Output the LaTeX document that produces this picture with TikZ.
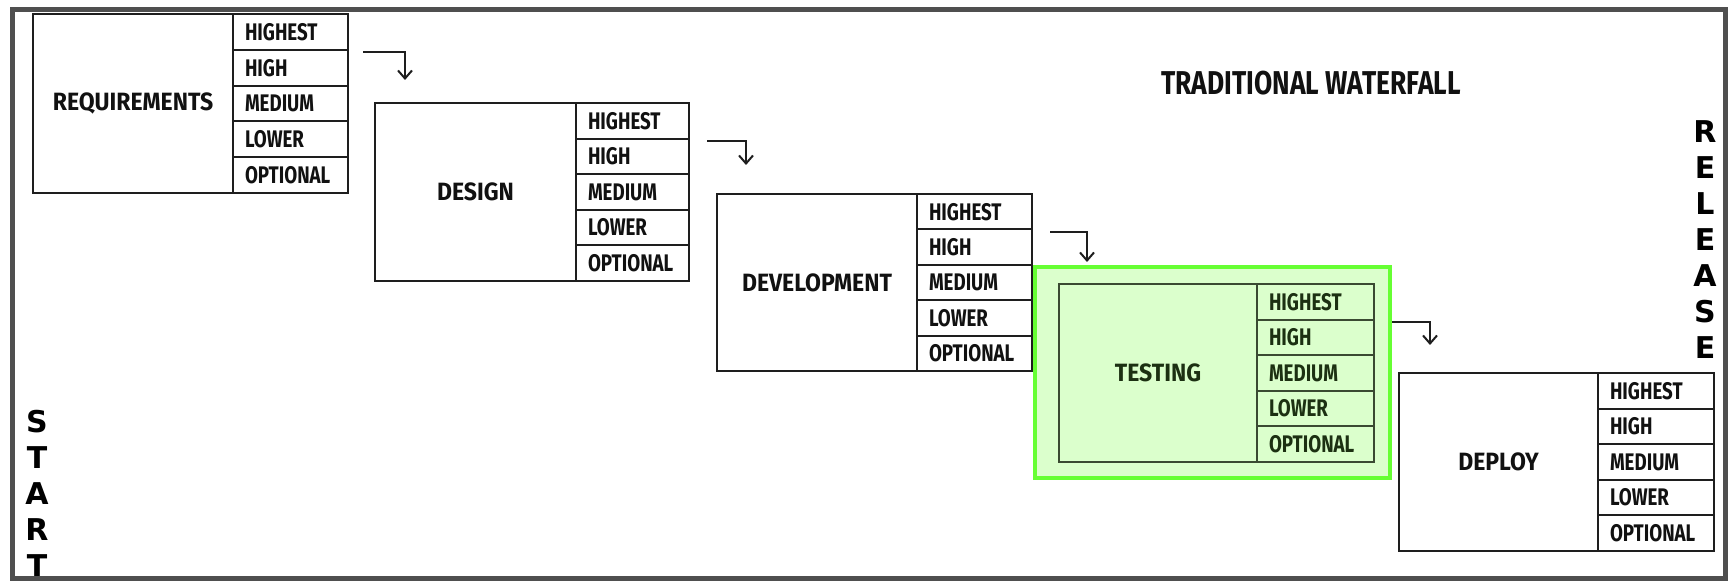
\documentclass[tikz,border=0pt]{standalone}
\usepackage{fontspec}
\usetikzlibrary{arrows.meta}
\newfontfamily\rowfont{Fira Sans}[FakeStretch=0.78]
\newfontfamily\phasefont{Fira Sans}[FakeStretch=0.92]
\newfontfamily\titlefont{Fira Sans}[FakeStretch=0.8]
\newfontfamily\sidefont{DejaVu Sans}
\definecolor{framegray}{HTML}{4F4F4F}
\definecolor{boxline}{HTML}{1E1E1E}
\definecolor{boxtext}{HTML}{111111}
\definecolor{hlgreen}{HTML}{66FF33}
\definecolor{hlfill}{HTML}{DBFFCC}
\tikzset{
  phasebox/.style={draw=boxline, line width=1pt, outer sep=0pt, inner sep=0pt,
    text=boxtext, font=\phasefont\bfseries\fontsize{12.5}{14}\selectfont},
  rowbox/.style={draw=boxline, line width=1pt, outer sep=0pt, inner xsep=6pt, inner ysep=0pt,
    align=left, text=boxtext, font=\rowfont\bfseries\fontsize{12}{14}\selectfont},
  greenbox/.style={draw=hlgreen, line width=2.25pt, fill=hlfill, outer sep=0pt, inner sep=0pt},
  flow/.style={draw=boxline, line width=1pt, -{Straight Barb[length=4pt,width=7pt,line width=1pt]}},
  sidetext/.style={align=center, inner sep=0pt, text=black,
    font=\sidefont\bfseries\fontsize{15}{18}\selectfont},
  titletext/.style={inner sep=0pt, text=boxtext, font=\titlefont\bfseries\fontsize{16.5}{19}\selectfont},
  frameline/.style={draw=framegray, line width=2.5pt}
}
% #1 name, #2 x0, #3 y0, #4 divider x, #5 x1, #6 y1, #7 label
\newcommand\phase[7]{%
  \pgfmathsetmacro\phw{(#4-#2)*0.5}%
  \pgfmathsetmacro\phh{(#6-#3)*0.5}%
  \pgfmathsetmacro\rww{(#5-#4)*0.5-12}%
  \pgfmathsetmacro\rwh{(#6-#3)*0.1}%
  \node[phasebox, minimum width=\phw pt, minimum height=\phh pt, anchor=north west] (#1) at (#2,#3) {#7};
  \foreach \ri/\lbl in {0/HIGHEST,1/HIGH,2/MEDIUM,3/LOWER,4/OPTIONAL}{%
    \node[rowbox, text width=\rww pt, minimum height=\rwh pt, anchor=north west]
      (#1-\ri) at (#4,{#3+\ri*(#6-#3)/5}) {\lbl};
  }%
}
\begin{document}
\begin{tikzpicture}[x=0.5pt,y=-0.5pt]
  \useasboundingbox (0,0) rectangle (1730,582);
  \fill[white] (0,0) rectangle (1730,582);

  \phase{req}{33}{14}{233}{348}{193}{REQUIREMENTS}
  \phase{des}{375}{103}{576}{689}{281}{DESIGN}
  \phase{dev}{717}{194}{917}{1032}{371}{DEVELOPMENT}

  \node[greenbox, minimum width=177.5pt, minimum height=105.5pt, anchor=north west] (tstframe) at (1035,267) {};
  \begin{scope}
    \definecolor{boxline}{HTML}{3A4A32}
    \definecolor{boxtext}{HTML}{1C3012}
    \phase{tst}{1059}{284}{1257}{1374}{462}{TESTING}
  \end{scope}

  \phase{dep}{1399}{373}{1598}{1714}{551}{DEPLOY}

  \coordinate (a1s) at (363,52);   \coordinate (a1e) at (405,80);
  \coordinate (a2s) at (707,141);  \coordinate (a2e) at (746,165);
  \coordinate (a3s) at (1050,232); \coordinate (a3e) at (1087,262);
  \coordinate (a4s) at (1392,322); \coordinate (a4e) at (1430,345);
  \draw[flow] (a1s) -| (a1e);
  \draw[flow] (a2s) -| (a2e);
  \draw[flow] (a3s) -| (a3e);
  \draw[flow] (a4s) -| (a4e);

  \node[titletext] (title) at (1311,83) {TRADITIONAL WATERFALL};
  \node[sidetext] (release) at (1705,240) {R\\E\\L\\E\\A\\S\\E};
  \node[sidetext] (start) at (37,493) {S\\T\\A\\R\\T};

  \draw[frameline] (12,9.5) rectangle (1725.5,578.5);
\end{tikzpicture}
\end{document}
